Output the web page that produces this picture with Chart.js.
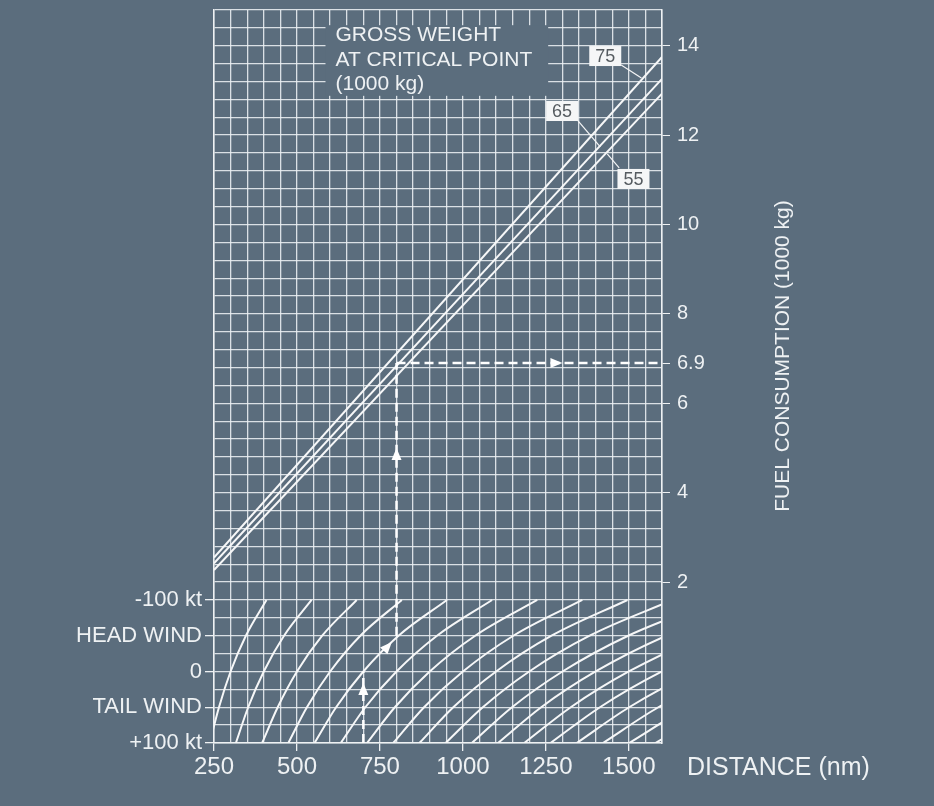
<!DOCTYPE html>
<html>
<head>
<meta charset="utf-8">
<title>Fuel consumption - critical point</title>
<script src="https://cdn.jsdelivr.net/npm/chart.js@4.4.1/dist/chart.umd.min.js"></script>
<style>
  html, body { margin: 0; padding: 0; background: #5b6d7d; }
  #wrap { width: 934px; height: 806px; position: relative; }
</style>
</head>
<body>
<div id="wrap"><canvas id="fuelChart"></canvas></div>
<script>
// distance axis (nm)
var distanceLabels = [250, 500, 750, 1000, 1250, 1500];
// fuel consumption axis (1000 kg)
var fuelLabels = [2, 4, 6, 6.9, 8, 10, 12, 14];
// wind axis (kt), negative = head wind
var windLevels = [100, 50, 0, -50, -100];
var windNames  = ['+100 kt', 'TAIL WIND', '0', 'HEAD WIND', '-100 kt'];

// gross weight at critical point (1000 kg), fuel read at 250 nm and 1600 nm
var grossWeights = [55, 65, 75];
var fuelAt250    = [2.27, 2.42, 2.55];
var fuelAt1600   = [12.93, 13.26, 13.75];

// wind guide curves: distance (nm) at +100, +50, 0, -50, -100 kt
var windCurves = [
  [237, 265, 300, 346, 408],
  [316, 353, 400, 461, 544],
  [395, 442, 500, 576, 680],
  [474, 530, 600, 691, 816],
  [553, 618, 700, 806, 952],
  [632, 706, 800, 922, 1088],
  [711, 795, 900, 1037, 1224],
  [790, 883, 1000, 1152, 1360],
  [869, 971, 1100, 1267, 1496],
  [948, 1060, 1200, 1382, 1632],
  [1027, 1148, 1300, 1498, 1768],
  [1106, 1236, 1400, 1613, 1904],
  [1185, 1325, 1500, 1728, 2040],
  [1264, 1413, 1600, 1843, 2176],
  [1343, 1501, 1700, 1958, 2312],
  [1422, 1589, 1800, 2074, 2448],
  [1501, 1678, 1900, 2189, 2584],
  [1580, 1766, 2000, 2304, 2720]
];

// worked example
var exampleDistance = 700;   // nm, no wind
var exampleWind     = -50;   // kt head wind
var exampleAirDist  = 800;   // nm
var exampleFuel     = 6.9;   // 1000 kg

var bg = '#5b6d7d';
var ink = '#eef1f3';
var gridCol = 'rgba(236,240,244,0.88)';
var fontFam = '"Liberation Sans", Arial, Helvetica, sans-serif';

// wind section sits under the fuel scale: 25 kt per grid step of 0.4
function windY(w) { return Math.round(-w * 0.016 * 10) / 10; }

var yMin = -1.6, yMax = 14.8;
var xMin = 250, xMax = 1600;

var datasets = [];

// dashed example path
var dash = { borderColor: '#ffffff', borderWidth: 2.5, borderDash: [9, 5], pointRadius: 0, fill: false };
datasets.push(Object.assign({ data: [{x: exampleDistance, y: yMin}, {x: exampleDistance, y: windY(0)}] }, dash));
datasets.push(Object.assign({ data: [{x: exampleAirDist, y: windY(exampleWind)}, {x: exampleAirDist, y: exampleFuel}] }, dash));
datasets.push(Object.assign({ data: [{x: exampleAirDist, y: exampleFuel}, {x: xMax, y: exampleFuel}] }, dash));

// gross weight lines
for (var g = 0; g < grossWeights.length; g++) {
  datasets.push({
    label: String(grossWeights[g]),
    data: [{x: xMin, y: fuelAt250[g]}, {x: xMax, y: fuelAt1600[g]}],
    borderColor: '#f6f7f8', borderWidth: 2, pointRadius: 0, tension: 0
  });
}

// wind guide curves
for (var c = 0; c < windCurves.length; c++) {
  var pts = [];
  for (var k = 0; k < windLevels.length; k++) {
    pts.push({x: windCurves[c][k], y: windY(windLevels[k])});
  }
  datasets.push({
    data: pts, borderColor: '#f6f7f8', borderWidth: 2, pointRadius: 0,
    cubicInterpolationMode: 'monotone'
  });
}

function isWindTick(v) {
  for (var i = 0; i < windLevels.length; i++) if (Math.abs(windY(windLevels[i]) - v) < 1e-6) return i;
  return -1;
}

function arrowHead(ctx, x1, y1, x2, y2) {
  var a = Math.atan2(y2 - y1, x2 - x1), L = 12, W = 5;
  ctx.save();
  ctx.translate(x2, y2); ctx.rotate(a);
  ctx.beginPath();
  ctx.moveTo(0, 0); ctx.lineTo(-L, -W); ctx.lineTo(-L, W); ctx.closePath();
  ctx.fillStyle = '#ffffff'; ctx.fill();
  ctx.restore();
}

var extras = {
  id: 'extras',
  beforeDraw: function(chart) {
    var ctx = chart.ctx;
    ctx.save(); ctx.fillStyle = bg; ctx.fillRect(0, 0, chart.width, chart.height); ctx.restore();
  },
  beforeDatasetsDraw: function(chart) {
    var ctx = chart.ctx, xs = chart.scales.x, ys = chart.scales.y;
    // patch behind the legend title
    var l = xs.getPixelForValue(586), r = xs.getPixelForValue(1257);
    var t = ys.getPixelForValue(14.46), b = ys.getPixelForValue(12.88);
    ctx.save();
    ctx.fillStyle = bg; ctx.fillRect(l, t, r - l, b - t);
    ctx.fillStyle = ink; ctx.font = '21px ' + fontFam;
    ctx.textAlign = 'left'; ctx.textBaseline = 'middle';
    var tx = xs.getPixelForValue(616);
    ctx.fillText('GROSS WEIGHT', tx, ys.getPixelForValue(14.24));
    ctx.fillText('AT CRITICAL POINT', tx, ys.getPixelForValue(13.68));
    ctx.fillText('(1000 kg)', tx, ys.getPixelForValue(13.14));
    ctx.restore();
  },
  afterDatasetsDraw: function(chart) {
    var ctx = chart.ctx, xs = chart.scales.x, ys = chart.scales.y;
    function P(x, y) { return [xs.getPixelForValue(x), ys.getPixelForValue(y)]; }
    // arrows on the example path
    var a, b;
    a = P(exampleDistance, -0.7); b = P(exampleDistance, -0.26); arrowHead(ctx, a[0], a[1], b[0], b[1]);
    a = P(760, 0.45); b = P(786, 0.66); arrowHead(ctx, a[0], a[1], b[0], b[1]);
    a = P(exampleAirDist, 4.5); b = P(exampleAirDist, 5.0); arrowHead(ctx, a[0], a[1], b[0], b[1]);
    a = P(1250, exampleFuel); b = P(1300, exampleFuel); arrowHead(ctx, a[0], a[1], b[0], b[1]);

    // weight labels with leaders
    var boxes = [
      {t: '75', c: [1429, 13.77], l1: [1477, 13.57], l2: [1538, 13.28]},
      {t: '65', c: [1299, 12.54], l1: [1347, 12.32], l2: [1414, 11.74]},
      {t: '55', c: [1514, 11.02], l1: [1471, 11.27], l2: [1435, 11.58]}
    ];
    ctx.save();
    ctx.strokeStyle = '#f4f5f6'; ctx.lineWidth = 1.2;
    boxes.forEach(function(bx) {
      var p1 = P(bx.l1[0], bx.l1[1]), p2 = P(bx.l2[0], bx.l2[1]);
      ctx.beginPath(); ctx.moveTo(p1[0], p1[1]); ctx.lineTo(p2[0], p2[1]); ctx.stroke();
    });
    ctx.font = '18px ' + fontFam; ctx.textAlign = 'center'; ctx.textBaseline = 'middle';
    boxes.forEach(function(bx) {
      var c = P(bx.c[0], bx.c[1]);
      ctx.fillStyle = '#f5f6f7'; ctx.fillRect(c[0] - 16, c[1] - 10, 32, 20);
      ctx.fillStyle = '#555b60'; ctx.fillText(bx.t, c[0], c[1] + 1);
    });
    ctx.restore();
  },
  afterDraw: function(chart) {
    var ctx = chart.ctx, ca = chart.chartArea;
    ctx.save();
    ctx.fillStyle = ink;
    ctx.font = '25px ' + fontFam; ctx.textAlign = 'left'; ctx.textBaseline = 'middle';
    ctx.fillText('DISTANCE (nm)', ca.right + 25, ca.bottom + 25);
    ctx.translate(ca.right + 121, 356);
    ctx.rotate(-Math.PI / 2);
    ctx.font = '21px ' + fontFam; ctx.textAlign = 'center';
    ctx.fillText('FUEL CONSUMPTION (1000 kg)', 0, 0);
    ctx.restore();
  }
};

var tickFont = { family: fontFam, size: 22 };

function noEdgePad(s) {
  s.paddingTop = 0; s.paddingBottom = 0; s.paddingLeft = 0; s.paddingRight = 0;
}

new Chart(document.getElementById('fuelChart'), {
  type: 'line',
  data: { datasets: datasets },
  plugins: [extras],
  options: {
    responsive: true,
    maintainAspectRatio: false,
    animation: false,
    devicePixelRatio: 1,
    layout: { padding: { top: 10, left: 0, right: 0, bottom: 0 } },
    plugins: { legend: { display: false }, tooltip: { enabled: false } },
    scales: {
      x: {
        type: 'linear', min: xMin, max: xMax,
        afterBuildTicks: function(s) {
          var t = [];
          for (var v = xMin; v <= xMax; v += 50) t.push({ value: v });
          s.ticks = t;
        },
        afterFit: function(s) { s.height = 63; noEdgePad(s); },
        ticks: {
          autoSkip: false, maxRotation: 0, color: ink, padding: 2,
          font: { family: fontFam, size: 24 },
          callback: function(v) { return distanceLabels.indexOf(v) >= 0 ? String(v) : ''; }
        },
        grid: {
          color: gridCol, lineWidth: 1.3, tickLength: 8,
          tickColor: function(c) { return c.tick && distanceLabels.indexOf(c.tick.value) >= 0 ? ink : 'rgba(0,0,0,0)'; }
        },
        border: { color: ink, width: 1.5 }
      },
      y: {
        type: 'linear', position: 'left', min: yMin, max: yMax,
        afterBuildTicks: function(s) {
          var t = [];
          for (var i = 0; i <= 41; i++) t.push({ value: Math.round((yMin + i * 0.4) * 10) / 10 });
          s.ticks = t;
        },
        afterFit: function(s) { s.width = 214; noEdgePad(s); },
        ticks: {
          autoSkip: false, color: ink, padding: 3, font: tickFont,
          callback: function(v) { var i = isWindTick(v); return i >= 0 ? windNames[i] : ''; }
        },
        grid: {
          color: gridCol, lineWidth: 1.3, tickLength: 9,
          tickColor: function(c) { return c.tick && isWindTick(c.tick.value) >= 0 ? ink : 'rgba(0,0,0,0)'; }
        },
        border: { color: ink, width: 1.5 }
      },
      y2: {
        type: 'linear', position: 'right', min: yMin, max: yMax,
        afterBuildTicks: function(s) {
          s.ticks = fuelLabels.map(function(v) { return { value: v }; });
        },
        afterFit: function(s) { s.width = 272; noEdgePad(s); },
        ticks: {
          autoSkip: false, color: ink, padding: 7, font: { family: fontFam, size: 20 },
          callback: function(v) { return String(v); }
        },
        grid: { drawOnChartArea: false, tickLength: 8, tickColor: ink },
        border: { color: ink, width: 1.5 }
      }
    }
  }
});
</script>
</body>
</html>
